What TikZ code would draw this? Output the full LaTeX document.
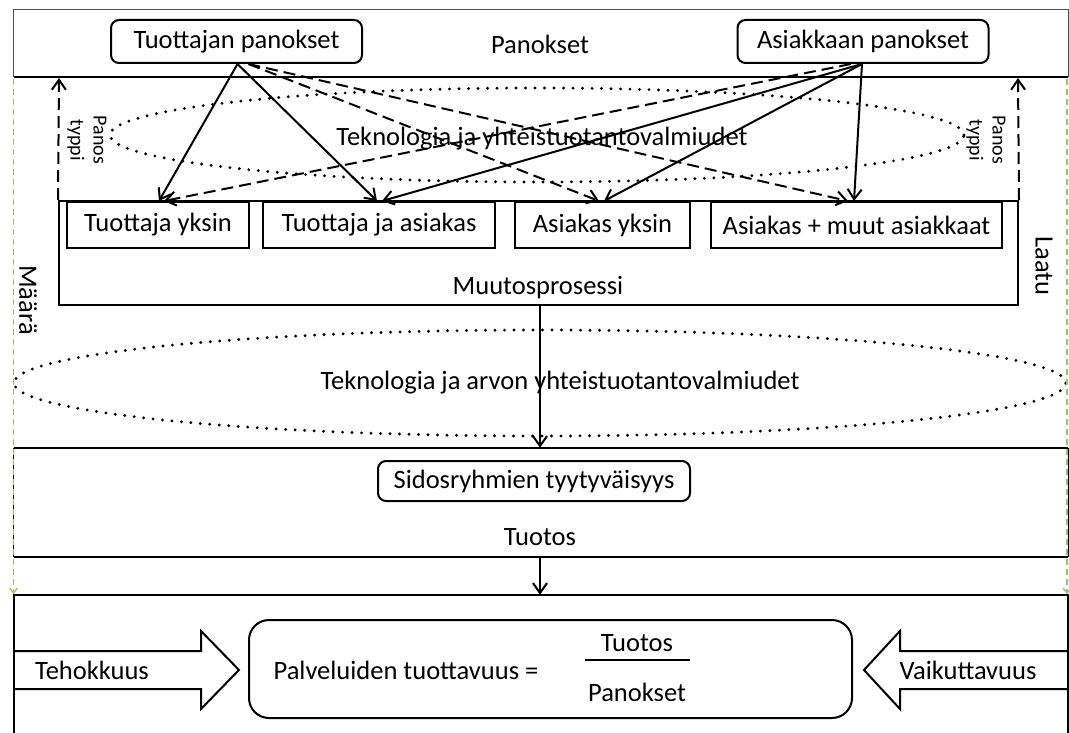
\documentclass[tikz,border=0pt]{standalone}
\usepackage{fontspec}
\setmainfont{Carlito}
\usetikzlibrary{arrows.meta,shapes.geometric}
\definecolor{guide}{RGB}{160,190,105}
\begin{document}
\begin{tikzpicture}[x=1pt,y=-1pt,
  every node/.style={font=\fontsize{26.5}{31}\selectfont, inner sep=0pt},
  rbox/.style={draw, line width=2pt, rounded corners=8pt},
  pbox/.style={draw, line width=2pt},
  arr/.style={line width=2pt, -{Straight Barb[length=10pt,width=14pt,line width=2pt]}},
  darr/.style={arr, dash pattern=on 12pt off 6pt},
  dots/.style={draw, line width=3.2pt, dash pattern=on 0pt off 9.5pt, line cap=round},
  guideline/.style={draw=guide, line width=1.3pt, dash pattern=on 6pt off 4pt},
  rot/.style={rotate=-90},
  small/.style={font=\fontsize{20}{23}\selectfont}
]
\useasboundingbox (0,0) rectangle (1069,733);
% top frame
\draw[line width=1pt, draw=black!70] (13.6,10) rectangle (1068,77);
\draw[line width=2pt] (13.6,77) -- (1068,77);
\node (pan) at (540,44) {Panokset};
\node[rbox, minimum width=251pt, minimum height=43pt] (tp) at (236.5,41.5) {Tuottajan panokset};
\node[rbox, minimum width=251pt, minimum height=43pt] (ap) at (863,41.5) {Asiakkaan panokset};
% ellipse 1
\node[ellipse, dots, minimum width=854pt, minimum height=94pt] (e1) at (537,135) {};
\node (e1t) at (542,139) {Teknologia ja yhteistuotantovalmiudet};
% transformation process
\node[pbox, minimum width=959pt, minimum height=104pt] (mp) at (538.5,253) {};
\node (mpt) at (538,288) {Muutosprosessi};
\node[pbox, minimum width=182pt, minimum height=46pt] (ty) at (158,225) {Tuottaja yksin};
\node[pbox, minimum width=232pt, minimum height=46pt] (tja) at (379,225) {Tuottaja ja asiakas};
\node[pbox, minimum width=175pt, minimum height=46pt] (ay) at (602.5,225) {Asiakas yksin};
\node[pbox, minimum width=291pt, minimum height=46pt] (am) at (856.5,225) {Asiakas + muut asiakkaat};
% side arrows
\coordinate (topL) at (59,78);
\coordinate (topR) at (1018,78);
\draw[darr] (mp.north west) -- (topL);
\draw[darr] (mp.north east) -- (topR);
\node[rot, small, align=center] (pt1) at (87,140) {Panos\\typpi};
\node[rot, small, align=center] (pt2) at (986,140) {Panos\\typpi};
\node[rot] (maara) at (28,300) {Määrä};
\node[rot] (laatu) at (1044,266) {Laatu};
% input arrows
\draw[arr] ([xshift=1pt]tp.south) -- ([xshift=1pt]ty.north);
\draw[arr] ([xshift=1pt]tp.south) -- ([xshift=-2pt]tja.north);
\draw[darr] ([xshift=12pt]tp.south) -- ([xshift=-3.5pt]ay.north);
\draw[darr] ([xshift=12pt]tp.south) -- ([xshift=-8.5pt]am.north);
\draw[arr] ([xshift=-1pt]ap.south) -- ([xshift=3pt]tja.north);
\draw[arr] ([xshift=-1pt]ap.south) -- ([xshift=1.5pt]ay.north);
\draw[arr] ([xshift=-1pt]ap.south) -- ([xshift=-2.5pt]am.north);
\draw[darr] ([xshift=-12pt]ap.south) -- ([xshift=6pt]ty.north);
% ellipse 2
\node[ellipse, dots, minimum width=1052pt, minimum height=106pt] (e2) at (540,383) {};
\node (e2t) at (560,383) {Teknologia ja arvon yhteistuotantovalmiudet};
% output box
\node[minimum width=1054pt, minimum height=109pt] (tb) at (541,502.5) {};
\draw[line width=2.4pt] (tb.north west) -- (tb.north east);
\draw[line width=2.4pt] (tb.south west) -- (tb.south east);
\draw[line width=1pt] (tb.north west) -- (tb.south west);
\draw[line width=1pt] (tb.north east) -- (tb.south east);
\node[rbox, minimum width=312pt, minimum height=40pt] (sid) at (534,481) {Sidosryhmien tyytyväisyys};
\node (tuo) at (540,537) {Tuotos};
\draw[arr] ([xshift=1.5pt]mp.south) -- ([xshift=-1pt]tb.north);
% productivity box
\node[minimum width=1054pt, minimum height=145pt] (bb) at (541,667.5) {};
\draw[line width=2.4pt] (bb.south west) -- (bb.north west) -- (bb.north east) -- (bb.south east);
\draw[arr] ([xshift=-1pt]tb.south) -- ([xshift=-1pt]bb.north);
\node[draw, line width=2pt, rounded corners=20pt, minimum width=603pt, minimum height=98pt] (prod) at (550.5,669) {};
\node (pal) at (406,670) {Palveluiden tuottavuus =};
\node (num) at (637,643) {Tuotos};
\node (den) at (637,692) {Panokset};
\draw[line width=2pt] (585,660) -- (690,660);
% block arrows
\draw[line width=2pt, line join=miter] (13.6,651) -- (201,651) -- (201,631) -- (239,670) -- (201,709) -- (201,689) -- (13.6,689);
\node (teh) at (92,670) {Tehokkuus};
\draw[line width=2pt, line join=miter] (1068,651) -- (900,651) -- (900,631) -- (864,670) -- (900,709) -- (900,689) -- (1068,689);
\node (vai) at (968,670) {Vaikuttavuus};
% guide lines
\draw[guideline, -{Straight Barb[length=5pt,width=8pt]}] (13.6,79) -- (13.6,594);
\draw[guideline, -{Straight Barb[length=5pt,width=8pt]}] (1067,79) -- (1067,594);
\end{tikzpicture}
\end{document}
